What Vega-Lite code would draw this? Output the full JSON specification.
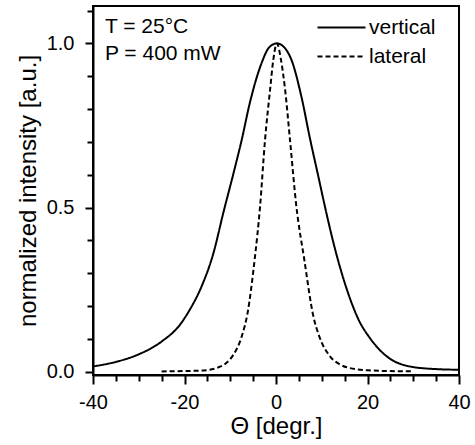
{
  "$schema": "https://vega.github.io/schema/vega-lite/v6.json",
  "width": 366,
  "height": 369,
  "autosize": {"type": "none"},
  "padding": {"left": 93, "top": 6, "right": 16, "bottom": 70},
  "config": {
    "font": "Liberation Sans",
    "view": {"stroke": "black", "strokeWidth": 2},
    "axis": {
      "grid": false,
      "domainColor": "black",
      "domainWidth": 2,
      "tickColor": "black",
      "tickWidth": 2,
      "labelColor": "black",
      "labelFontSize": 20,
      "labelFont": "Liberation Sans",
      "titleColor": "black",
      "titleFontSize": 24,
      "titleFont": "Liberation Sans",
      "titleFontWeight": "normal",
      "labelFlush": false,
      "labelOverlap": false,
      "tickCount": 40
    }
  },
  "datasets": {
    "curves": [
      {"series": "vertical", "theta": -40, "intensity": 0.016},
      {"series": "vertical", "theta": -35, "intensity": 0.03},
      {"series": "vertical", "theta": -30, "intensity": 0.053},
      {"series": "vertical", "theta": -25, "intensity": 0.092},
      {"series": "vertical", "theta": -21, "intensity": 0.143},
      {"series": "vertical", "theta": -18.8, "intensity": 0.19},
      {"series": "vertical", "theta": -16.2, "intensity": 0.262},
      {"series": "vertical", "theta": -13.7, "intensity": 0.36},
      {"series": "vertical", "theta": -11.5, "intensity": 0.485},
      {"series": "vertical", "theta": -9.3, "intensity": 0.604},
      {"series": "vertical", "theta": -7.5, "intensity": 0.706},
      {"series": "vertical", "theta": -5.7, "intensity": 0.82},
      {"series": "vertical", "theta": -3.1, "intensity": 0.942},
      {"series": "vertical", "theta": -1.5, "intensity": 0.988},
      {"series": "vertical", "theta": 0.2, "intensity": 1.0},
      {"series": "vertical", "theta": 1.8, "intensity": 0.988},
      {"series": "vertical", "theta": 3.4, "intensity": 0.949},
      {"series": "vertical", "theta": 5.6, "intensity": 0.835},
      {"series": "vertical", "theta": 7.4, "intensity": 0.712},
      {"series": "vertical", "theta": 9.25, "intensity": 0.595},
      {"series": "vertical", "theta": 11.1, "intensity": 0.478},
      {"series": "vertical", "theta": 12.9, "intensity": 0.374},
      {"series": "vertical", "theta": 14.7, "intensity": 0.285},
      {"series": "vertical", "theta": 16.2, "intensity": 0.222},
      {"series": "vertical", "theta": 18, "intensity": 0.16},
      {"series": "vertical", "theta": 20.5, "intensity": 0.103},
      {"series": "vertical", "theta": 24.2, "intensity": 0.047},
      {"series": "vertical", "theta": 29.3, "intensity": 0.016},
      {"series": "vertical", "theta": 35, "intensity": 0.008},
      {"series": "vertical", "theta": 40, "intensity": 0.006},
      {"series": "lateral", "theta": -25, "intensity": 0.001},
      {"series": "lateral", "theta": -20, "intensity": 0.002},
      {"series": "lateral", "theta": -15, "intensity": 0.005},
      {"series": "lateral", "theta": -13, "intensity": 0.011},
      {"series": "lateral", "theta": -11, "intensity": 0.025},
      {"series": "lateral", "theta": -9.3, "intensity": 0.052},
      {"series": "lateral", "theta": -7.5, "intensity": 0.107},
      {"series": "lateral", "theta": -6.2, "intensity": 0.18},
      {"series": "lateral", "theta": -4.6, "intensity": 0.35},
      {"series": "lateral", "theta": -3.5, "intensity": 0.5},
      {"series": "lateral", "theta": -2.4, "intensity": 0.706},
      {"series": "lateral", "theta": -1.3, "intensity": 0.858},
      {"series": "lateral", "theta": -0.6, "intensity": 0.949},
      {"series": "lateral", "theta": 0.2, "intensity": 1.0},
      {"series": "lateral", "theta": 1.1, "intensity": 0.949},
      {"series": "lateral", "theta": 2.0, "intensity": 0.858},
      {"series": "lateral", "theta": 3.06, "intensity": 0.706},
      {"series": "lateral", "theta": 4.4, "intensity": 0.51},
      {"series": "lateral", "theta": 6.2, "intensity": 0.34},
      {"series": "lateral", "theta": 8.15, "intensity": 0.17},
      {"series": "lateral", "theta": 9.4, "intensity": 0.11},
      {"series": "lateral", "theta": 11.8, "intensity": 0.047},
      {"series": "lateral", "theta": 14, "intensity": 0.022},
      {"series": "lateral", "theta": 16.2, "intensity": 0.011},
      {"series": "lateral", "theta": 20.5, "intensity": 0.004},
      {"series": "lateral", "theta": 25, "intensity": 0.002},
      {"series": "lateral", "theta": 30, "intensity": 0.001}
    ]
  },
  "layer": [
    {
      "data": {"name": "curves"},
      "mark": {"type": "line", "color": "black", "strokeWidth": 2, "interpolate": "monotone"},
      "encoding": {
        "x": {
          "field": "theta",
          "type": "quantitative",
          "scale": {"domain": [-40, 40], "nice": false, "zero": false},
          "axis": {
            "title": "Θ [degr.]",
            "values": [-40, -35, -30, -25, -20, -15, -10, -5, 0, 5, 10, 15, 20, 25, 30, 35, 40],
            "labelExpr": "datum.value % 20 === 0 ? (datum.value < 0 ? '-' + abs(datum.value) : '' + datum.value) : ''",
            "tickSize": {"condition": {"test": "datum.value % 20 === 0", "value": 9}, "value": 6},
            "labelPadding": 8,
            "titlePadding": 2
          }
        },
        "y": {
          "field": "intensity",
          "type": "quantitative",
          "scale": {"domain": [-0.01, 1.114], "nice": false, "zero": false},
          "axis": {
            "title": "normalized intensity [a.u.]",
            "values": [0, 0.1, 0.2, 0.3, 0.4, 0.5, 0.6, 0.7, 0.8, 0.9, 1.0, 1.1],
            "labelExpr": "abs(datum.value * 2 - round(datum.value * 2)) < 0.001 ? format(datum.value, '.1f') : ''",
            "tickSize": {"condition": {"test": "abs(datum.value * 2 - round(datum.value * 2)) < 0.001", "value": 8}, "value": 6},
            "labelPadding": 11,
            "titlePadding": 6
          }
        },
        "strokeDash": {
          "field": "series",
          "type": "nominal",
          "scale": {"domain": ["vertical", "lateral"], "range": [[1, 0], [5, 3]]},
          "legend": {
            "orient": "none",
            "legendX": 238,
            "legendY": 11,
            "title": null,
            "symbolType": "M-4,0H4",
            "symbolSize": 144,
            "symbolStrokeWidth": 2,
            "symbolStrokeColor": "black",
            "labelFontSize": 21,
            "labelFont": "Liberation Sans",
            "labelColor": "black",
            "labelOffset": 17,
            "rowPadding": 7,
            "padding": 0
          }
        }
      }
    },
    {
      "data": {"values": [{}]},
      "mark": {"type": "text", "align": "left", "baseline": "alphabetic", "fontSize": 21, "font": "Liberation Sans", "color": "black", "lineHeight": 27},
      "encoding": {
        "x": {"datum": -37.4},
        "y": {"datum": 1.031},
        "text": {"value": ["T = 25°C", "P = 400 mW"]}
      }
    }
  ]
}
